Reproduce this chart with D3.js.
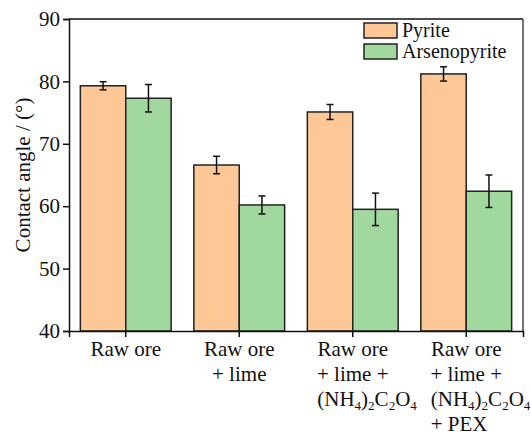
<!DOCTYPE html>
<html>
<head>
<meta charset="utf-8">
<script src="https://cdn.jsdelivr.net/npm/d3@7"></script>
<style>
  body { margin: 0; background: #fff; }
</style>
</head>
<body>
<svg id="chart" width="531" height="436"></svg>
<script>
// data
const groups = ['g1', 'g2', 'g3', 'g4'];
const series = ['Pyrite', 'Arsenopyrite'];
const pyrite = [79.3, 66.6, 75.1, 81.2];
const pyriteErr = [0.65, 1.4, 1.2, 1.15];
const arseno = [77.3, 60.2, 59.5, 62.4];
const arsenoErr = [2.2, 1.45, 2.6, 2.6];
const yTicks = [40, 50, 60, 70, 80, 90];
const colors = ['#FDC796', '#A0D89E'];

const font = "'Liberation Serif', Tinos, 'Times New Roman', Times, 'DejaVu Serif', serif";

const svg = d3.select('#chart').attr('font-family', font);
const margin = { top: 19, right: 8, bottom: 105, left: 69 };
const width = +svg.attr('width');
const height = +svg.attr('height');
const fs = 21;

const x = d3.scaleBand()
    .domain(groups)
    .range([margin.left, width - margin.right])
    .paddingInner(0.2)
    .paddingOuter(0.1);

const xSub = d3.scaleBand()
    .domain(series)
    .range([0, x.bandwidth()]);

const y = d3.scaleLinear()
    .domain([40, 90])
    .range([height - margin.bottom, margin.top]);

const values = [pyrite, arseno];
const errs = [pyriteErr, arsenoErr];

// bars + error bars
series.forEach((s, si) => {
    const rows = groups.map((g, i) => ({ g: g, v: values[si][i], e: errs[si][i] }));
    svg.append('g').selectAll('rect')
        .data(rows)
        .enter().append('rect')
        .attr('x', d => x(d.g) + xSub(s))
        .attr('y', d => y(d.v))
        .attr('width', xSub.bandwidth())
        .attr('height', d => y(40) - y(d.v))
        .attr('fill', colors[si])
        .attr('stroke', '#222')
        .attr('stroke-width', 1.5);

    const eb = svg.append('g').attr('stroke', '#111').attr('stroke-width', 1.5);
    rows.forEach(d => {
        const cx = x(d.g) + xSub(s) + xSub.bandwidth() / 2;
        eb.append('line').attr('x1', cx).attr('x2', cx).attr('y1', y(d.v + d.e)).attr('y2', y(d.v - d.e));
        eb.append('line').attr('x1', cx - 3.5).attr('x2', cx + 3.5).attr('y1', y(d.v + d.e)).attr('y2', y(d.v + d.e));
        eb.append('line').attr('x1', cx - 3.5).attr('x2', cx + 3.5).attr('y1', y(d.v - d.e)).attr('y2', y(d.v - d.e));
    });
});

// frame
svg.append('line')
    .attr('x1', margin.left).attr('x2', width - margin.right)
    .attr('y1', margin.top).attr('y2', margin.top)
    .attr('stroke', '#111').attr('stroke-width', 1.5);
svg.append('line')
    .attr('x1', width - margin.right).attr('x2', width - margin.right)
    .attr('y1', margin.top).attr('y2', height - margin.bottom)
    .attr('stroke', '#444').attr('stroke-width', 1.5);

// axes
const yAxis = svg.append('g')
    .attr('transform', `translate(${margin.left},0)`)
    .call(d3.axisLeft(y).tickValues(yTicks).tickSize(6).tickPadding(3))
    .attr('font-family', font);
yAxis.selectAll('text').attr('font-size', fs).attr('fill', '#111');

const xAxis = svg.append('g')
    .attr('transform', `translate(0,${height - margin.bottom})`)
    .call(d3.axisBottom(x).tickSize(6).tickFormat(''));
xAxis.selectAll('.tick').attr('transform', d => `translate(${x(d) + x.bandwidth() / 2},0)`);

[yAxis, xAxis].forEach(a => {
    a.select('.domain').attr('stroke', '#111').attr('stroke-width', 1.5);
    a.selectAll('.tick line').attr('stroke', '#111').attr('stroke-width', 1.5);
});

// x labels, multi-line; odd parts of a formula are subscripts
const labelLines = [
    [['Raw ore']],
    [['Raw ore'], ['+ lime']],
    [['Raw ore'], ['+ lime +'], ['(NH', '4', ')', '2', 'C', '2', 'O', '4']],
    [['Raw ore'], ['+ lime +'], ['(NH', '4', ')', '2', 'C', '2', 'O', '4'], ['+ PEX']]
];

groups.forEach((g, gi) => {
    const cx = x(g) + x.bandwidth() / 2;
    labelLines[gi].forEach((parts, li) => {
        // lines after the second hang from the left edge of "Raw ore"
        const left = li >= 2;
        const t = svg.append('text')
            .attr('x', left ? cx - 35.5 : cx)
            .attr('y', 356 + li * 25)
            .attr('text-anchor', left ? 'start' : 'middle')
            .attr('font-size', fs)
            .attr('fill', '#111');
        parts.forEach((p, pi) => {
            const sub = pi % 2 === 1;
            t.append('tspan')
                .attr('font-size', sub ? fs * 0.62 : fs)
                .attr('dy', sub ? 4 : (pi > 0 ? -4 : 0))
                .text(p);
        });
    });
});

// y axis title
svg.append('text')
    .attr('transform', `translate(30,${(margin.top + height - margin.bottom) / 2}) rotate(-90)`)
    .attr('text-anchor', 'middle')
    .attr('font-size', fs)
    .attr('fill', '#111')
    .text('Contact angle / (°)');

// legend
const legend = svg.append('g').attr('transform', 'translate(364,23)');
series.forEach((s, i) => {
    legend.append('rect')
        .attr('x', 0).attr('y', i * 21)
        .attr('width', 33).attr('height', 15)
        .attr('fill', colors[i])
        .attr('stroke', '#222').attr('stroke-width', 1.5);
    legend.append('text')
        .attr('x', 38).attr('y', i * 21 + 14)
        .attr('font-size', 20)
        .attr('fill', '#111')
        .text(s);
});
</script>
</body>
</html>
